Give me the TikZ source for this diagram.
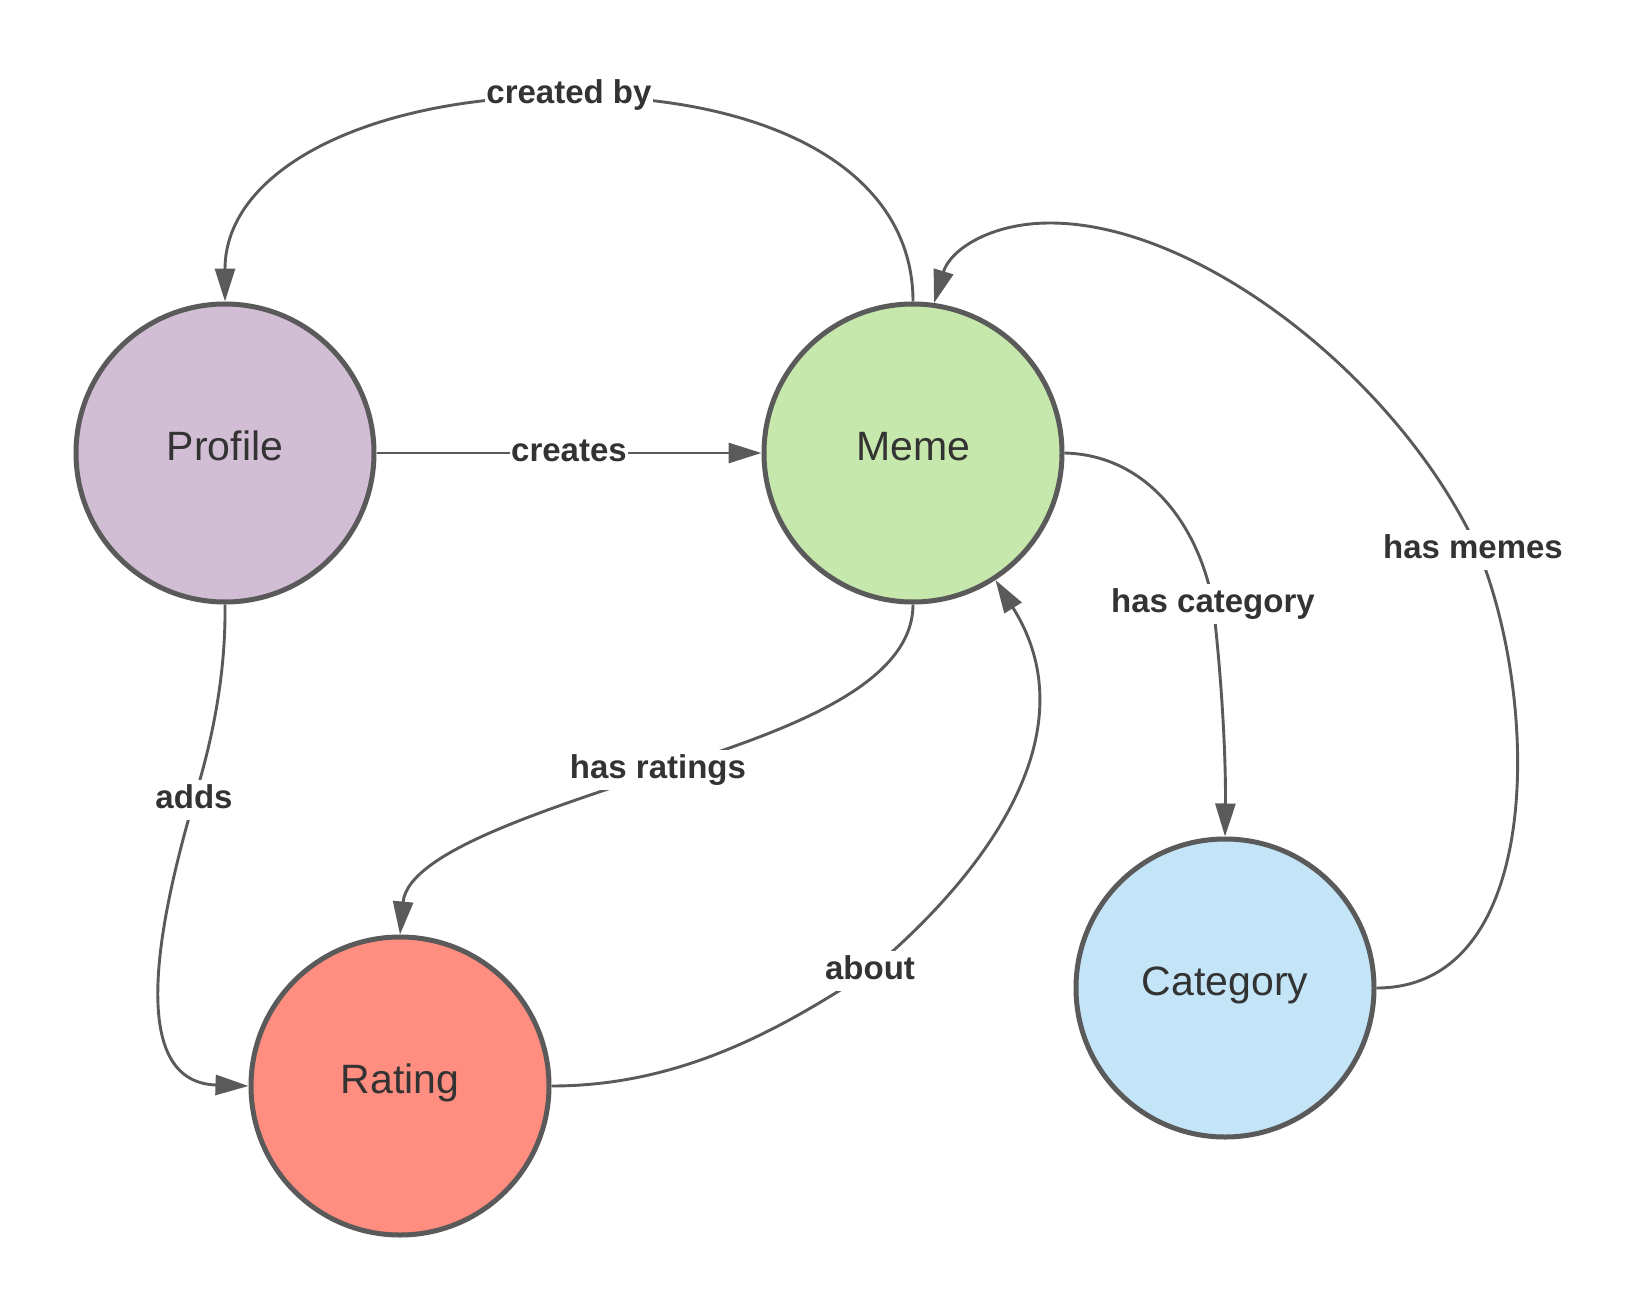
\documentclass[tikz,border=0pt]{standalone}
\usepackage{fontspec}
\setmainfont{Liberation Sans}
\usetikzlibrary{arrows.meta}
\definecolor{edgegray}{RGB}{90,90,90}
\definecolor{txt}{RGB}{51,51,51}
\definecolor{cprof}{RGB}{210,190,212}
\definecolor{cmeme}{RGB}{199,232,172}
\definecolor{crat}{RGB}{255,142,128}
\definecolor{ccat}{RGB}{196,229,248}
\begin{document}
\begin{tikzpicture}[x=1pt,y=-1pt,
  ent/.style={circle, draw=edgegray, line width=5pt, minimum size=298pt, inner sep=0pt,
    text=txt, font=\fontsize{41}{49}\selectfont, text height=30pt, text depth=16pt},
  lbl/.style={fill=white, text=txt, font=\fontsize{33}{40}\selectfont\bfseries,
    inner xsep=1pt, inner ysep=3pt, text height=25pt, text depth=9pt},
  conn/.style={draw=edgegray, line width=2.9pt, -{Triangle[length=33pt,width=20pt]}}]
\fill[white] (0,0) rectangle (1639,1311);
\useasboundingbox (0,0) rectangle (1639,1311);

\node[ent, fill=cprof] (profile) at (225,453) {Profile};
\node[ent, fill=cmeme] (meme) at (913,453) {Meme};
\node[ent, fill=crat] (rating) at (400,1086) {Rating};
\node[ent, fill=ccat] (category) at (1225,988) {Category};

\draw[conn] (meme.north) .. controls (913,170) and (770,96) .. (569,96) node[lbl]{created by}
  .. controls (368,96) and (225,170) .. (profile.north);

\draw[conn] (profile.east) -- node[lbl]{creates} (meme.west);

\draw[conn] (profile.south) .. controls (226,680) and (210,748) .. (194,800) node[lbl]{adds}
  .. controls (165,900) and (120,1082) .. (rating.west);

\draw[conn] (meme.south) .. controls (913,690) and (770,735) .. (664,770) node[lbl, xshift=-6pt]{has ratings}
  .. controls (560,806) and (408,850) .. (rating.north);

\draw[conn] (rating.east) .. controls (680,1086) and (780,1030) .. (870,971) node[lbl]{about}
  .. controls (990,870) and (1090,730) .. (meme.-57);

\draw[conn] (meme.east) .. controls (1150,455) and (1200,530) .. (1213,604) node[lbl]{has category}
  .. controls (1222,680) and (1226,760) .. (category.north);

\draw[conn] (category.east) .. controls (1545,988) and (1540,700) .. (1478,550) node[lbl, xshift=-5pt]{has memes}
  .. controls (1400,380) and (1200,223) .. (1050,223)
  .. controls (990,223) and (950,250) .. (meme.82);
\end{tikzpicture}
\end{document}
